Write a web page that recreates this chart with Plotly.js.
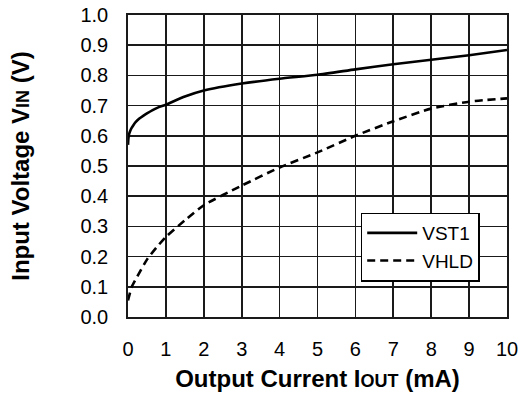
<!DOCTYPE html>
<html>
<head>
<meta charset="utf-8">
<script src="https://cdn.plot.ly/plotly-3.0.1.min.js"></script>
<style>html,body{margin:0;padding:0;background:#fff;}#chart{width:522px;height:401px;}</style>
</head>
<body>
<div id="chart"></div>
<script>
const vst1X = [0, 0.01, 0.03, 0.06, 0.1, 0.15, 0.2, 0.3, 0.4, 0.5, 0.65, 0.8, 1, 1.5, 2, 3, 4, 5, 6, 7, 8, 9, 10];
const vst1Y = [0.57, 0.59, 0.606, 0.617, 0.627, 0.637, 0.645, 0.657, 0.666, 0.674, 0.685, 0.694, 0.703, 0.73, 0.75, 0.773, 0.789, 0.802, 0.82, 0.837, 0.852, 0.867, 0.884];
const vhldX = [0, 0.1, 0.25, 0.5, 0.75, 1, 1.5, 2, 3, 4, 5, 6, 7, 8, 9, 10];
const vhldY = [0.055, 0.10, 0.135, 0.19, 0.23, 0.265, 0.32, 0.37, 0.435, 0.495, 0.545, 0.6, 0.648, 0.69, 0.713, 0.724];
const xTicks = [0, 1, 2, 3, 4, 5, 6, 7, 8, 9, 10];
const yTicks = [0, 0.1, 0.2, 0.3, 0.4, 0.5, 0.6, 0.7, 0.8, 0.9, 1.0];
const yTickText = ['0.0','0.1','0.2','0.3','0.4','0.5','0.6','0.7','0.8','0.9','1.0'];

const font = 'Liberation Sans, Arial, Helvetica, sans-serif';
const traces = [
  {x: vst1X, y: vst1Y, name: 'VST1', mode: 'lines', line: {color: '#000', width: 2.6, shape: 'spline', smoothing: 0.5}},
  {x: vhldX, y: vhldY, name: 'VHLD', mode: 'lines', line: {color: '#000', width: 2.6, dash: '8px,5px', shape: 'spline', smoothing: 0.6}}
];
const layout = {
  width: 522, height: 401,
  margin: {l: 128, r: 15, t: 15, b: 84},
  paper_bgcolor: '#fff', plot_bgcolor: '#fff',
  font: {family: font, size: 20, color: '#000'},
  showlegend: true,
  legend: {x: 0.614, y: 0.346, xanchor: 'left', yanchor: 'top', bgcolor: '#fff', bordercolor: '#000', borderwidth: 1.5, itemwidth: 50, font: {size: 19, family: font, color: '#000'}, tracegroupgap: 0},
  xaxis: {
    range: [0, 10], tickvals: xTicks, ticktext: xTicks.map(String),
    showgrid: true, gridcolor: '#1a1a1a', gridwidth: 1.6,
    showline: true, linecolor: '#1a1a1a', linewidth: 1.8, mirror: true,
    zeroline: false, ticks: 'outside', ticklen: 13, tickcolor: 'rgba(0,0,0,0)',
    tickfont: {size: 20, family: font},
    title: {text: '<b>Output Current I<span style="font-size:18px">OUT</span> (mA)</b>', font: {size: 24, family: font}, standoff: 11}
  },
  yaxis: {
    range: [0, 1.0], tickvals: yTicks, ticktext: yTickText,
    showgrid: true, gridcolor: '#1a1a1a', gridwidth: 1.6,
    showline: true, linecolor: '#1a1a1a', linewidth: 1.8, mirror: true,
    zeroline: false, ticks: 'outside', ticklen: 14, tickcolor: 'rgba(0,0,0,0)',
    tickfont: {size: 20, family: font},
    title: {text: '<b>Input Voltage V<span style="font-size:18px">IN</span> (V)</b>', font: {size: 24, family: font}, standoff: 44}
  }
};
Plotly.newPlot('chart', traces, layout, {displayModeBar: false, staticPlot: true});
</script>
</body>
</html>
